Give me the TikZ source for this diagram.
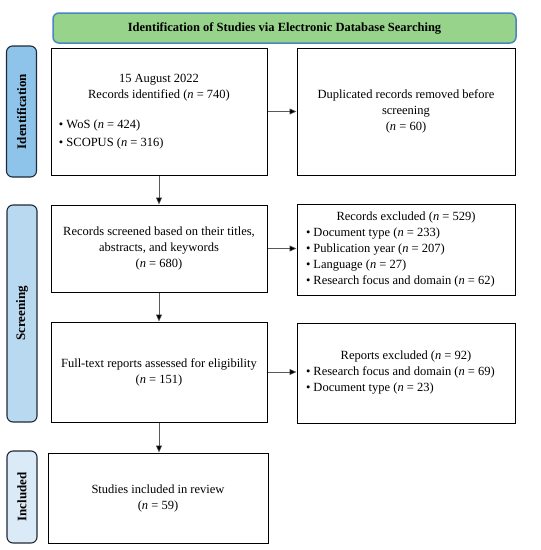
\documentclass[tikz,border=0pt]{standalone}
\usepackage{fontspec}
\setmainfont{Liberation Serif}
\usepackage{xcolor}
\usetikzlibrary{arrows.meta}

\definecolor{headgreen}{HTML}{97D38B}
\definecolor{headblue}{HTML}{4A86BF}
\definecolor{phaseA}{HTML}{8EC3EA}
\definecolor{phaseB}{HTML}{B9D9F0}
\definecolor{phaseC}{HTML}{DBEAF7}
\definecolor{phaseline}{HTML}{1F2A36}

\tikzset{
  stagebox/.style={rectangle, draw=black, line width=1pt, fill=white, align=center,
    font=\fontsize{12.5}{16}\selectfont},
  phasebar/.style={rectangle, rounded corners=6pt, draw=phaseline, line width=1.1pt,
    rotate=90, minimum height=30pt, font=\fontsize{13}{15}\selectfont\bfseries},
  flow/.style={draw=black!65, line width=0.6pt, -{Triangle[length=7pt,width=6pt,fill=black]}}
}

\begin{document}
\begin{tikzpicture}[x=1pt,y=-1pt]
\useasboundingbox (0,0) rectangle (541,550);

% header
\node[rectangle, rounded corners=6pt, fill=headgreen, draw=headblue, line width=1.5pt,
  minimum width=463pt, minimum height=30pt, font=\fontsize{12.5}{14}\selectfont\bfseries]
  (header) at (284.5,28) {Identification of Studies via Electronic Database Searching};

% phase bars
\node[phasebar, fill=phaseA, minimum width=131pt] (identification) at (21.5,111.5) {Identification};
\node[phasebar, fill=phaseB, minimum width=217pt] (screening) at (22,313.5) {Screening};
\node[phasebar, fill=phaseC, minimum width=92pt] (included) at (22,497) {Included};

% boxes
\node[stagebox, minimum width=216pt, minimum height=127pt] (identified) at (159,111.5) {%
  \parbox{200pt}{\centering 15 August 2022\\ Records identified (\textit{n} = 740)\par
  \vspace{14pt}\raggedright
  \textbullet\ WoS (\textit{n} = 424)\\[2pt] \textbullet\ SCOPUS (\textit{n} = 316)}};
\node[stagebox, minimum width=218pt, minimum height=127pt] (duplicates) at (406,111.5)
  {Duplicated records removed before\\ screening\\ (\textit{n} = 60)};

\node[stagebox, minimum width=216pt, minimum height=87pt] (screened) at (159,248.5)
  {Records screened based on their titles,\\ abstracts, and keywords\\ (\textit{n} = 680)};
\node[stagebox, minimum width=218pt, minimum height=91pt] (excluded) at (406,249.5) {%
  \parbox{200pt}{\centering Records excluded (\textit{n} = 529)\par\raggedright
  \textbullet\ Document type (\textit{n} = 233)\\
  \textbullet\ Publication year (\textit{n} = 207)\\
  \textbullet\ Language (\textit{n} = 27)\\
  \textbullet\ Research focus and domain (\textit{n} = 62)}};

\node[stagebox, minimum width=216pt, minimum height=100pt] (fulltext) at (159,372)
  {Full-text reports assessed for eligibility\\ (\textit{n} = 151)};
\node[stagebox, minimum width=218pt, minimum height=100pt] (reports) at (406,373) {%
  \parbox{200pt}{\centering Reports excluded (\textit{n} = 92)\par\raggedright
  \textbullet\ Research focus and domain (\textit{n} = 69)\\
  \textbullet\ Document type (\textit{n} = 23)}};

\node[stagebox, minimum width=220pt, minimum height=90pt] (review) at (158,498)
  {Studies included in review\\ (\textit{n} = 59)};

% connectors
\draw[flow] (identified.east) -- (duplicates.west);
\draw[flow] (identified.south) -- (screened.north);
\draw[flow] (screened.east) -- (screened.east -| excluded.west);
\draw[flow] (screened.south) -- (fulltext.north);
\draw[flow] (fulltext.east) -- (fulltext.east -| reports.west);
\draw[flow] (fulltext.south) -- (fulltext.south |- review.north);
\end{tikzpicture}
\end{document}
